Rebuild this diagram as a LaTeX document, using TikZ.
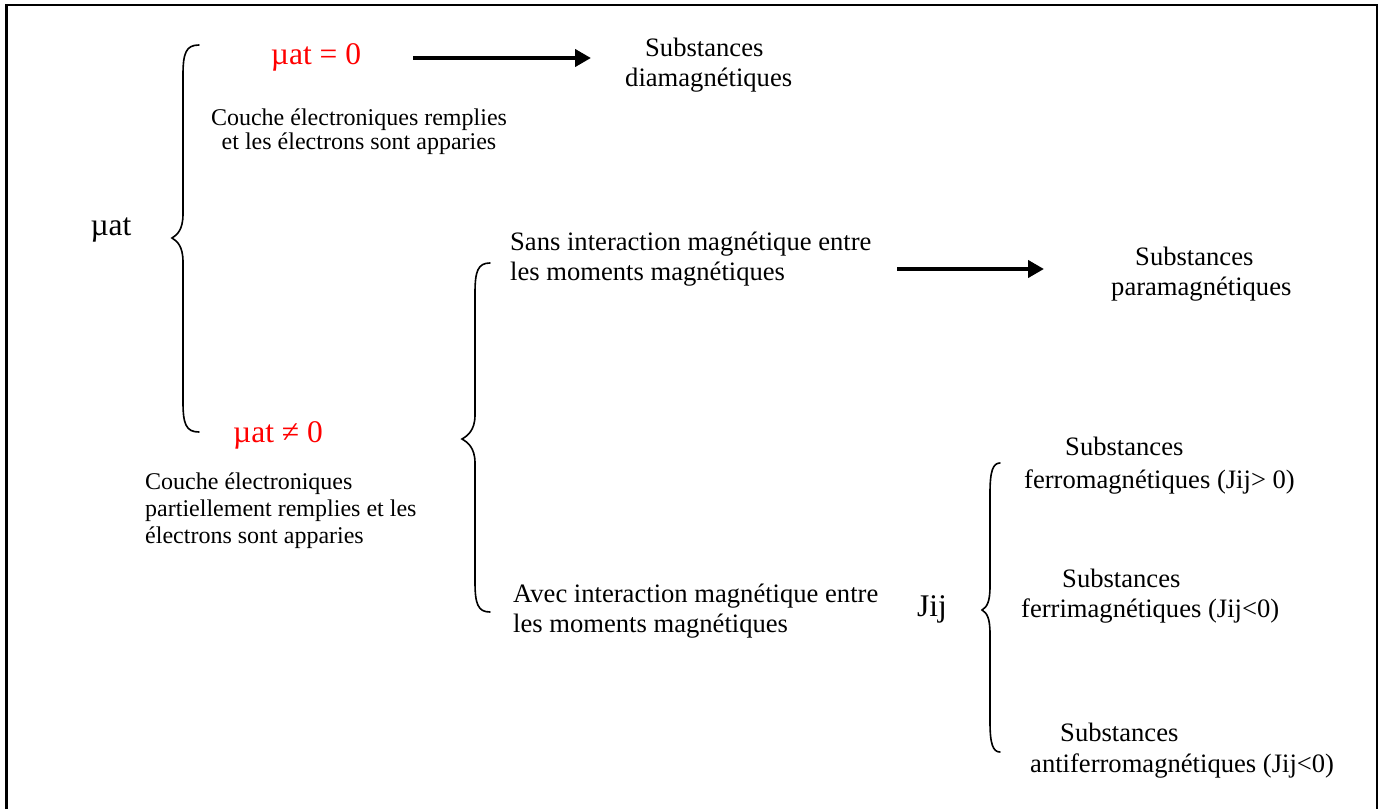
\documentclass[tikz,border=0pt]{standalone}
\usepackage{fontspec}
\setmainfont{Liberation Serif}
\usetikzlibrary{arrows.meta}

% curly brace opening to the right: #1 end x, #2 stem x, #3 tip x, #4 top y, #5 tip y, #6 bottom y
\newcommand{\curlybrace}[6]{%
  \draw[bracestroke] (#1,#4) .. controls (#2+3,#4) and (#2,#4+8) .. (#2,#4+30)
    -- (#2,#5-24) .. controls (#2,#5-8) and (#3+5,#5-3) .. (#3,#5)
    .. controls (#3+5,#5+3) and (#2,#5+8) .. (#2,#5+24)
    -- (#2,#6-30) .. controls (#2,#6-8) and (#2+3,#6) .. (#1,#6);}

\tikzset{
  bigtxt/.style={inner sep=0pt, font=\fontsize{26.6}{30.5}\selectfont},
  smalltxt/.style={inner sep=0pt, font=\fontsize{24}{24}\selectfont},
  mutxt/.style={inner sep=0pt, font=\fontsize{31.5}{34}\selectfont},
  cond/.style={mutxt, text=red},
  bracestroke/.style={line width=1.6pt, line cap=round},
  thickarrow/.style={line width=4.5pt, -{Triangle[length=16pt,width=17pt]}},
}

\begin{document}
\begin{tikzpicture}[x=1pt, y=-1pt]
\useasboundingbox (0,0) rectangle (1381,809);
\fill[white] (0,0) rectangle (1381,809);

% open frame (bottom edge lies off the page)
\draw[line width=2.2pt] (6.5,809) -- (6.5,5) -- (1377,5) -- (1377,809);

% first level
\node[mutxt] (muat) at (111,230) {µat};
\curlybrace{199}{183}{172}{45}{238}{432}

\node[cond] (mu0) at (316,57) {µat = 0};
\node[smalltxt, align=center] (full) at (359,132)
  {Couche électroniques remplies\\et les électrons sont apparies};
\node[bigtxt, align=left, anchor=west] (dia) at (625,65)
  {\hspace*{20pt}Substances\\diamagnétiques};
\coordinate (a1s) at (413,58);
\coordinate (a1e) at (591,58);
\draw[thickarrow] (a1s) -- (a1e);

\node[cond] (mu1) at (278,435) {µat ≠ 0};
\node[smalltxt, align=left, anchor=west, font=\fontsize{24}{27}\selectfont] (partial) at (145,511)
  {Couche électroniques\\partiellement remplies et les\\électrons sont apparies};

% second level
\curlybrace{490}{475}{462}{263}{439}{612}

\node[bigtxt, align=left, anchor=west] (sans) at (510,259)
  {Sans interaction magnétique entre\\les moments magnétiques};
\node[bigtxt, align=left, anchor=west] (para) at (1111,274)
  {\hspace*{24pt}Substances\\paramagnétiques};
\coordinate (a2s) at (897,269);
\coordinate (a2e) at (1044,269);
\draw[thickarrow] (a2s) -- (a2e);

\node[bigtxt, align=left, anchor=west] (avec) at (513,611)
  {Avec interaction magnétique entre\\les moments magnétiques};

% third level
\node[mutxt] (jij) at (932,609) {Jij};
\curlybrace{1000}{990}{982}{463}{610}{752}

\node[bigtxt, align=left, anchor=west, font=\fontsize{26.6}{33}\selectfont] (ferro) at (1024,466)
  {\hspace*{41pt}Substances\\ferromagnétiques (Jij> 0)};
\node[bigtxt, align=left, anchor=west] (ferri) at (1021,596)
  {\hspace*{41pt}Substances\\ferrimagnétiques (Jij<0)};
\node[bigtxt, align=left, anchor=west] (anti) at (1030,750.5)
  {\hspace*{30pt}Substances\\antiferromagnétiques (Jij<0)};
\end{tikzpicture}
\end{document}
